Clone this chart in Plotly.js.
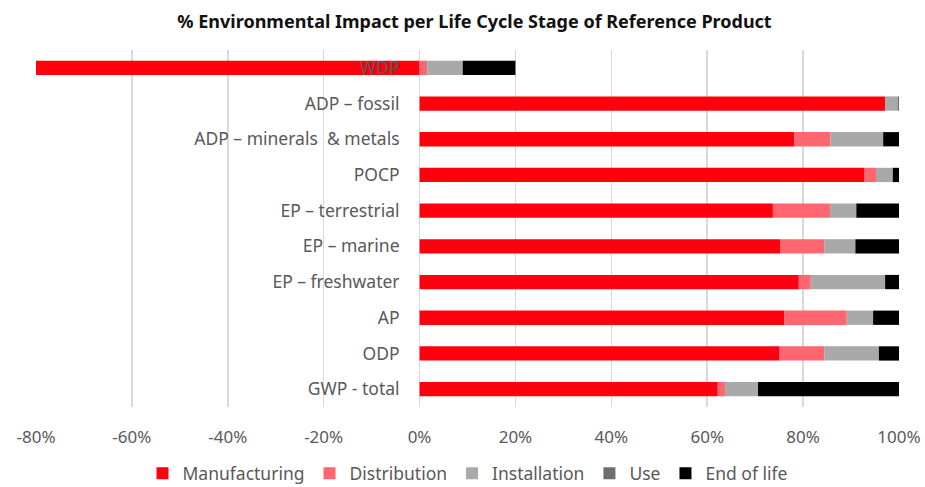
<!DOCTYPE html>
<html>
<head>
<meta charset="utf-8">
<script src="https://cdn.plot.ly/plotly-3.0.1.min.js"></script>
<style>html,body{margin:0;padding:0;background:#fff;}#chart{width:925px;height:487px;}</style>
</head>
<body>
<div id="chart"></div>
<script>
// Categories, top to bottom
const categories = ["WDP", "ADP – fossil", "ADP – minerals  & metals", "POCP", "EP – terrestrial", "EP – marine", "EP – freshwater", "AP", "ODP", "GWP - total"];
const seriesNames = ["Manufacturing", "Distribution", "Installation", "Use", "End of life"];
const manufacturing = [-80.0, 97.1, 78.2, 92.7, 73.7, 75.3, 79.1, 76.1, 75.1, 62.2];
const distribution  = [1.6, 0.0, 7.5, 2.5, 11.9, 9.1, 2.5, 13.0, 9.3, 1.5];
const installation  = [7.4, 2.6, 11.0, 3.5, 5.5, 6.5, 15.5, 5.5, 11.4, 6.9];
const use           = [0.0, 0.3, 0.0, 0.0, 0.0, 0.0, 0.0, 0.0, 0.0, 0.0];
const endOfLife     = [11.0, 0.0, 3.3, 1.3, 8.9, 9.1, 2.9, 5.4, 4.2, 29.4];
const tickValues = [-80, -60, -40, -20, 0, 20, 40, 60, 80, 100];
const tickLabels = ["-80%", "-60%", "-40%", "-20%", "0%", "20%", "40%", "60%", "80%", "100%"];

const colors = ["#FF000F", "#FF6670", "#A9A9A9", "#6E6E6E", "#000000"];
const values = [manufacturing, distribution, installation, use, endOfLife];

const traces = seriesNames.map((name, i) => ({
  type: "bar",
  orientation: "h",
  name: name,
  x: values[i],
  y: categories,
  marker: {color: colors[i], line: {width: 0}},
  hoverinfo: "x+name"
}));

const font = "'Noto Sans', 'Open Sans', sans-serif";
const layout = {
  width: 925,
  height: 487,
  margin: {l: 36, r: 26, t: 50, b: 80, autoexpand: false},
  paper_bgcolor: "#fff",
  plot_bgcolor: "#fff",
  barmode: "relative",
  bargap: 0.6,
  font: {family: font, size: 17, color: "#595959"},
  title: {
    text: "% Environmental Impact per Life Cycle Stage of Reference Product",
    font: {family: font, size: 18, color: "#111111", weight: "bold"},
    x: 0.513, xanchor: "center", y: 0.955, yanchor: "middle"
  },
  xaxis: {
    range: [-80, 100],
    tickvals: tickValues,
    ticktext: tickLabels,
    showgrid: true,
    gridcolor: "#d9d9d9",
    gridwidth: 1.5,
    zeroline: true,
    zerolinecolor: "#d9d9d9",
    zerolinewidth: 1.5,
    showline: false,
    ticks: "",
    ticklabelstandoff: 18,
    tickfont: {family: font, size: 17, color: "#595959"},
    fixedrange: true
  },
  yaxis: {
    type: "category",
    autorange: "reversed",
    anchor: "free",
    position: 80 / 180,
    showgrid: false,
    zeroline: false,
    showline: false,
    ticks: "",
    ticklabelstandoff: 20,
    tickfont: {family: font, size: 17.5, color: "#595959"},
    fixedrange: true
  },
  showlegend: true,
  legend: {
    orientation: "h",
    x: 0.5, xanchor: "center",
    y: -0.186, yanchor: "middle",
    traceorder: "normal",
    font: {family: font, size: 17.5, color: "#595959"},
    itemwidth: 30
  }
};

Plotly.newPlot("chart", traces, layout, {displayModeBar: false, staticPlot: true});
</script>
</body>
</html>
